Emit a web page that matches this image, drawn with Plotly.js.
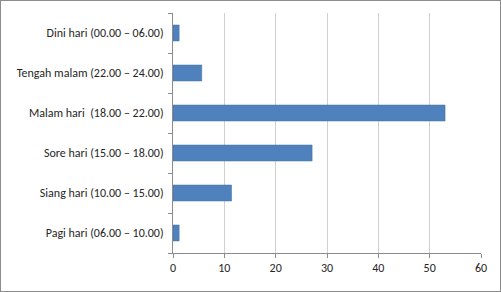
<!DOCTYPE html>
<html>
<head>
<meta charset="utf-8">
<script src="https://cdn.plot.ly/plotly-3.0.1.min.js"></script>
<style>
html,body{margin:0;padding:0;background:#fff;}
#chart{width:499px;height:290px;border:1px solid #8c8c8c;}
</style>
</head>
<body>
<div id="chart"></div>
<script>
var categories = [
  "Pagi hari (06.00 – 10.00)",
  "Siang hari (10.00 – 15.00)",
  "Sore hari (15.00 – 18.00)",
  "Malam hari  (18.00 – 22.00)",
  "Tengah malam (22.00 – 24.00)",
  "Dini hari (00.00 – 06.00)"
];
var values = [1.2, 11.4, 27.1, 53.0, 5.6, 1.2];
var xTicks = [0, 10, 20, 30, 40, 50, 60];

var trace = {
  type: "bar",
  orientation: "h",
  y: categories,
  x: values,
  marker: {color: "#4F81BD", line: {color: "#41719C", width: 0.5}},
  hoverinfo: "x+y"
};

var layout = {
  width: 499,
  height: 290,
  margin: {l: 172, r: 19, t: 12, b: 38},
  paper_bgcolor: "#ffffff",
  plot_bgcolor: "#ffffff",
  bargap: 0.6,
  showlegend: false,
  font: {family: "Carlito, 'Liberation Sans', sans-serif", size: 12, color: "#262626"},
  xaxis: {
    range: [0, 60],
    tickvals: xTicks,
    ticktext: xTicks.map(String),
    showgrid: true,
    gridcolor: "#d0d0d0",
    gridwidth: 1,
    zeroline: false,
    showline: true,
    linecolor: "#8c8c8c",
    ticks: "outside",
    ticklen: 4,
    tickcolor: "#8c8c8c",
    fixedrange: true
  },
  yaxis: {
    type: "category",
    showgrid: false,
    zeroline: false,
    showline: true,
    linecolor: "#8c8c8c",
    ticks: "outside",
    tickson: "boundaries",
    ticklen: 4,
    tickcolor: "#8c8c8c",
    ticklabelstandoff: 6,
    fixedrange: true
  }
};

Plotly.newPlot("chart", [trace], layout, {displayModeBar: false, staticPlot: true});
</script>
</body>
</html>
